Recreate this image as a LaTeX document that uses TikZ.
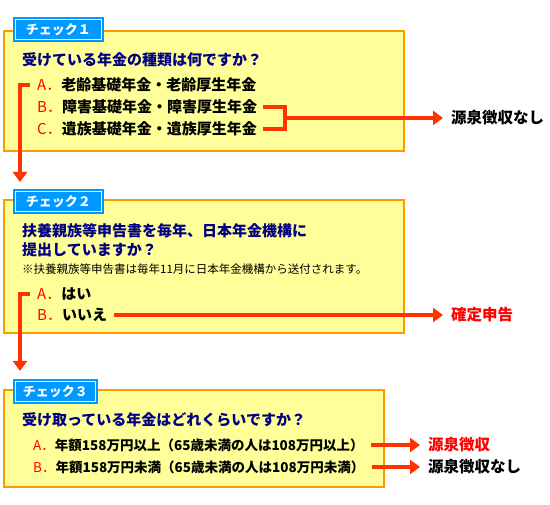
\documentclass[tikz,border=0pt]{standalone}
\usepackage{fontspec}
\setmainfont{Noto Sans CJK JP}
\usetikzlibrary{arrows.meta}
\definecolor{boxorange}{HTML}{FF9900}
\definecolor{boxyellow}{HTML}{FFFF99}
\definecolor{tabblue}{HTML}{0099FF}
\definecolor{qnavy}{HTML}{000080}
\definecolor{optred}{HTML}{FF0000}
\definecolor{connred}{HTML}{FF3300}
\newcommand{\optlabel}[1]{{\mdseries\color{optred}#1．}}
\tikzset{
  chkbox/.style={draw=boxorange,fill=boxyellow,line width=2pt,inner sep=0pt,anchor=north west},
  chktab/.style={draw=tabblue,fill=tabblue,double=white,double distance=1pt,line width=2pt,
    text=white,font=\fontsize{13pt}{13pt}\selectfont\bfseries,inner sep=0pt,
    minimum height=20pt,anchor=north west},
  question/.style={text=qnavy,font=\fontsize{15pt}{19pt}\selectfont\bfseries,align=left,inner sep=0pt},
  answer/.style={font=\fontsize{15pt}{15pt}\selectfont\bfseries,anchor=west,inner sep=0pt},
  smallanswer/.style={answer,font=\fontsize{13.5pt}{13.5pt}\selectfont\bfseries},
  remark/.style={font=\fontsize{11.5pt}{11.5pt}\selectfont,anchor=west,inner sep=0pt},
  result/.style={font=\fontsize{15.5pt}{15.5pt}\selectfont\bfseries,anchor=west,inner xsep=8pt,inner ysep=0pt},
  conn/.style={draw=connred,line width=4pt,line join=miter},
  arr/.style={-{Triangle[length=10pt,width=14pt]}}
}
\begin{document}
\begin{tikzpicture}[x=1pt,y=-1pt]
\useasboundingbox (0,0) rectangle (550,505);

\node[chkbox,minimum width=400pt,minimum height=120pt] (box1) at (3,30) {};
\node[chkbox,minimum width=400pt,minimum height=133pt] (box2) at (3,199) {};
\node[chkbox,minimum width=380pt,minimum height=97pt] (box3) at (3,389) {};

\node[chktab,minimum width=86pt] (tab1) at (14.5,18.5) {チェック１};
\node[chktab,minimum width=86pt] (tab2) at (14.5,190.5) {チェック２};
\node[chktab,minimum width=80pt] (tab3) at (14.5,380.5) {チェック３};

\node[question,anchor=west] (q1) at (22,60) {受けている年金の種類は何ですか？};
\node[answer] (a1) at (37,85) {\optlabel{A}老齢基礎年金・老齢厚生年金};
\node[answer] (b1) at (37,107) {\optlabel{B}障害基礎年金・障害厚生年金};
\node[answer] (c1) at (37,129) {\optlabel{C}遺族基礎年金・遺族厚生年金};
\node[result] (r1) at (443,118) {源泉徴収なし};

\node[question,anchor=north west] (q2) at (22,223) {扶養親族等申告書を毎年、日本年金機構に\\提出していますか？};
\node[remark] (n2) at (22,269) {※扶養親族等申告書は毎年11月に日本年金機構から送付されます。};
\node[answer] (a2) at (37,294) {\optlabel{A}はい};
\node[answer] (b2) at (37,315) {\optlabel{B}いいえ};
\node[result,text=optred] (r2) at (443,315) {確定申告};

\node[question,anchor=west] (q3) at (22,420) {受け取っている年金はどれくらいですか？};
\node[smallanswer] (a3) at (33,445) {\optlabel{A}年額158万円以上（65歳未満の人は108万円以上）};
\node[smallanswer] (b3) at (33,467) {\optlabel{B}年額158万円未満（65歳未満の人は108万円未満）};
\node[result,text=optred] (r3a) at (420,445) {源泉徴収};
\node[result] (r3b) at (420,467) {源泉徴収なし};

\coordinate (d1) at (20,182);
\coordinate (j1) at (285,118);
\coordinate (d2) at (20,371);

\draw[conn,arr] ([xshift=-7pt]a1.west) -| (d1);
\draw[conn] ([xshift=6pt]b1.east) -| (j1) |- ([xshift=6pt]c1.east);
\draw[conn,arr] (j1) -- (r1);

\draw[conn,arr] ([xshift=-7pt]a2.west) -| (d2);
\draw[conn,arr] ([xshift=7pt]b2.east) -- (r2);

\draw[conn,arr] ([xshift=7pt]a3.east) -- (r3a);
\draw[conn,arr] ([xshift=7pt]b3.east) -- (r3b);
\end{tikzpicture}
\end{document}
